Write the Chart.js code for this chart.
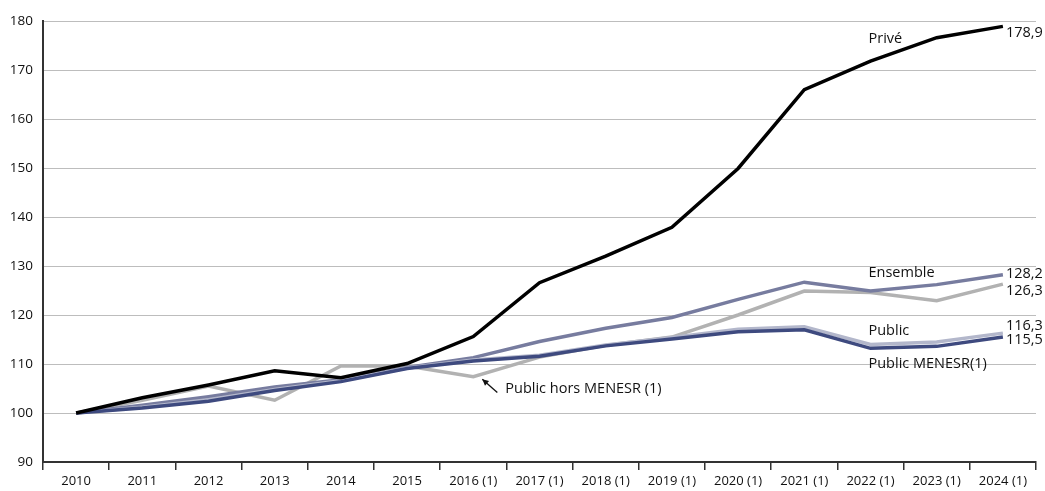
<!DOCTYPE html>
<html><head><meta charset="utf-8">
<script src="https://cdn.jsdelivr.net/npm/chart.js@4/dist/chart.umd.min.js"></script>
<style>html,body{margin:0;padding:0;background:#fff}#wrap{width:1045px;height:491px;position:relative}</style>
</head><body><div id="wrap"><canvas id="c" width="1045" height="491"></canvas></div>
<script>
const categories = ["2010","2011","2012","2013","2014","2015","2016 (1)","2017 (1)","2018 (1)","2019 (1)","2020 (1)","2021 (1)","2022 (1)","2023 (1)","2024 (1)"];
const prive = [100,103.1,105.7,108.6,107.2,110.1,115.6,126.6,132.0,137.9,149.9,166.0,171.8,176.6,178.9];
const ensemble = [100,101.6,103.3,105.3,106.8,109.3,111.3,114.6,117.3,119.5,123.2,126.7,124.9,126.2,128.2];
const publicHors = [100,102.6,105.5,102.6,109.6,109.6,107.4,111.4,113.8,115.5,120.0,124.9,124.6,122.9,126.3];
const publicAll = [100,101.2,102.7,104.8,106.6,109.2,110.8,111.8,113.9,115.4,117.1,117.6,114.0,114.5,116.3];
const publicMenesr = [100,101.0,102.4,104.6,106.4,109.1,110.6,111.6,113.7,115.1,116.6,117.0,113.2,113.6,115.5];
const yTicks = [90,100,110,120,130,140,150,160,170,180];

const FONT = "'Open Sans', Lato, sans-serif";

const annot = {
  id: 'annot',
  afterDatasetsDraw(chart) {
    const ctx = chart.ctx, x = chart.scales.x, y = chart.scales.y;
    ctx.save();
    ctx.fillStyle = '#111';
    ctx.font = '14.5px ' + FONT;
    ctx.textBaseline = 'middle';
    ctx.textAlign = 'left';
    const xi = i => x.getPixelForValue(i);
    const lbl = (t, i, dx, v) => ctx.fillText(t, xi(i) + dx, y.getPixelForValue(v));
    lbl('Privé', 12, -2, 176.4);
    lbl('Ensemble', 12, -2, 128.6);
    lbl('Public', 12, -2, 116.8);
    lbl('Public MENESR(1)', 12, -2, 110.0);
    lbl('178,9', 14, 3, 177.6);
    lbl('128,2', 14, 3, 128.3);
    lbl('126,3', 14, 3, 125.0);
    lbl('116,3', 14, 3, 117.7);
    lbl('115,5', 14, 3, 114.9);
    lbl('Public hors MENESR (1)', 6, 32, 104.9);
    // arrow
    const tx = xi(6) + 9, ty = y.getPixelForValue(106.9);
    const sx = xi(6) + 24, sy = y.getPixelForValue(104.2);
    ctx.strokeStyle = '#111'; ctx.lineWidth = 1.3;
    ctx.beginPath(); ctx.moveTo(sx, sy); ctx.lineTo(tx, ty); ctx.stroke();
    const ang = Math.atan2(ty - sy, tx - sx);
    ctx.beginPath();
    ctx.moveTo(tx, ty);
    ctx.lineTo(tx - 7 * Math.cos(ang - 0.45), ty - 7 * Math.sin(ang - 0.45));
    ctx.lineTo(tx - 7 * Math.cos(ang + 0.45), ty - 7 * Math.sin(ang + 0.45));
    ctx.closePath(); ctx.fillStyle = '#111'; ctx.fill();
    ctx.restore();
  }
};

const ds = (label, data, color) => ({label, data, borderColor: color, backgroundColor: color, borderWidth: 3.5, pointRadius: 0, tension: 0, fill: false});

new Chart(document.getElementById('c'), {
  type: 'line',
  data: {
    labels: categories,
    datasets: [
      ds('Privé', prive, '#000000'),
      ds('Public MENESR(1)', publicMenesr, '#3e4a7f'),
      ds('Public', publicAll, '#b3b7cb'),
      ds('Ensemble', ensemble, '#777c9f'),
      ds('Public hors MENESR (1)', publicHors, '#b2b2b2')
    ]
  },
  options: {
    responsive: false,
    animation: false,
    layout: {padding: {top: 21, right: 9, left: 0, bottom: 0}},
    plugins: {legend: {display: false}, tooltip: {enabled: false}, title: {display: false}},
    scales: {
      x: {
        offset: true,
        grid: {offset: true, drawOnChartArea: false, drawTicks: true, tickLength: 8, color: '#333', lineWidth: 1.5},
        border: {display: true, color: '#333', width: 2},
        ticks: {color: '#111', font: {family: FONT, size: 13}, maxRotation: 0, autoSkip: false, padding: 3},
        afterFit: s => { s.height = 29; }
      },
      y: {
        min: 90, max: 180,
        afterBuildTicks: s => { s.ticks = yTicks.map(v => ({value: v})); },
        grid: {color: '#bdbdbd', lineWidth: 1, drawTicks: false},
        border: {display: true, color: '#333', width: 2},
        ticks: {color: '#111', font: {family: FONT, size: 13.5}, padding: 10},
        afterFit: s => { s.width = 43; }
      }
    }
  },
  plugins: [annot]
});
</script>
</body></html>
